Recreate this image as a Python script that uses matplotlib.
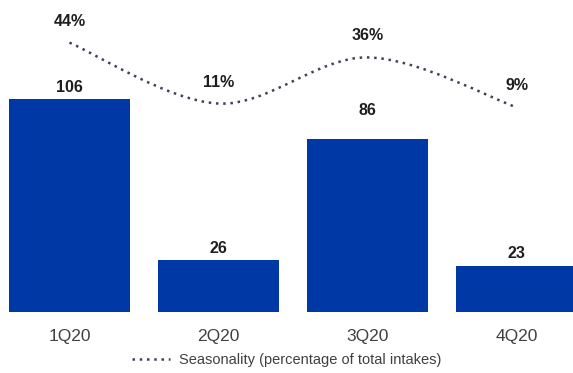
import matplotlib
matplotlib.use("Agg")
import matplotlib.pyplot as plt
from matplotlib.path import Path
from matplotlib.patches import PathPatch
from matplotlib.lines import Line2D

categories = ["1Q20", "2Q20", "3Q20", "4Q20"]
intakes = [106, 26, 86, 23]
seasonality = [44, 11, 36, 9]
season_labels = ["44%", "11%", "36%", "9%"]
legend_label = "Seasonality (percentage of total intakes)"

BAR_COLOR = "#0039A6"
LINE_COLOR = "#3F4258"
TEXT_COLOR = "#1E1E1E"
TICK_COLOR = "#404040"
FONT = ["Liberation Sans", "DejaVu Sans"]

fig = plt.figure(figsize=(5.73, 3.73), dpi=100)
ax = fig.add_axes([0, 61 / 373, 1, 312 / 373])
ax2 = ax.twinx()

x = list(range(len(categories)))
ax.bar(x, intakes, width=0.81, color=BAR_COLOR, zorder=2)
ax.set_xlim(-0.466, 3.379)
ax.set_ylim(0, 155.2)
ax2.set_ylim(-101.9, 67.1)

# bar value labels
bar_offsets = [8, 8, 20.5, 8.5]
for xi, v, off in zip(x, intakes, bar_offsets):
    ax.annotate(str(v), (xi, v), xytext=(0, off), textcoords="offset points",
                ha="center", va="center", fontsize=11.5, fontweight="bold",
                color=TEXT_COLOR, family=FONT)

# smoothed seasonality line (Excel-style Bezier smoothing)
pts = list(zip(x, seasonality))
n = len(pts)
verts = [pts[0]]
codes = [Path.MOVETO]
for i in range(n - 1):
    p0 = pts[i - 1] if i > 0 else pts[i]
    p1 = pts[i]
    p2 = pts[i + 1]
    p3 = pts[i + 2] if i + 2 < n else pts[i + 1]
    c1 = (p1[0] + (p2[0] - p0[0]) / 6, p1[1] + (p2[1] - p0[1]) / 6)
    c2 = (p2[0] - (p3[0] - p1[0]) / 6, p2[1] - (p3[1] - p1[1]) / 6)
    verts += [c1, c2, p2]
    codes += [Path.CURVE4] * 3
patch = PathPatch(Path(verts, codes), facecolor="none", edgecolor=LINE_COLOR,
                  lw=1.8, linestyle=(0, (1, 1.9)), zorder=3)
ax2.add_patch(patch)

for xi, v, lab in zip(x, seasonality, season_labels):
    ax2.annotate(lab, (xi, v), xytext=(0, 15.5), textcoords="offset points",
                 ha="center", va="center", fontsize=11.5, fontweight="bold",
                 color=TEXT_COLOR, family=FONT)

for a in (ax, ax2):
    for s in a.spines.values():
        s.set_visible(False)
    a.set_yticks([])
ax.set_xticks(x)
ax.set_xticklabels(categories, fontsize=12.5, color=TICK_COLOR, family=FONT)
ax.tick_params(axis="x", length=0, pad=12)

handle = Line2D([], [], color=LINE_COLOR, lw=1.8, linestyle=(0, (1, 1.9)))
leg = fig.legend([handle], [legend_label], loc="center", bbox_to_anchor=(0.5, 13 / 373),
                 frameon=False, prop={"family": FONT, "size": 10.5},
                 handlelength=2.6, handletextpad=0.6)
for t in leg.get_texts():
    t.set_color(TICK_COLOR)

fig.savefig("out.png", dpi=100)
